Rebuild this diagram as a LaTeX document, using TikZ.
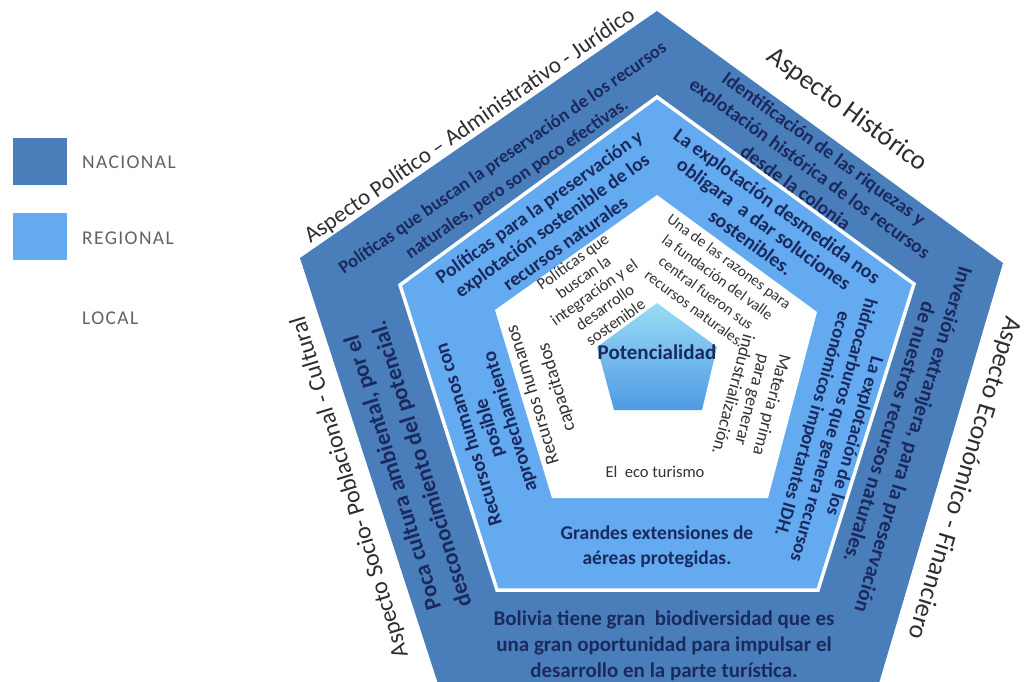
\documentclass[tikz,border=0pt]{standalone}
\usepackage{fontspec}
\setmainfont{Carlito}
\newcommand\myfs[2]{\fontsize{#1}{#2}\selectfont}
\definecolor{nac}{HTML}{4A7EBB}
\definecolor{reg}{HTML}{64AAF0}
\definecolor{navy}{HTML}{1B2A5E}
\definecolor{gtxt}{HTML}{2E2E2E}
\definecolor{ltxt}{HTML}{333333}
\definecolor{ptop}{HTML}{9ADCF5}
\definecolor{pbot}{HTML}{4E9BE3}
\tikzset{
  lbl/.style={text=gtxt, inner sep=0pt},
  bandtxt/.style={text=navy, align=center, inner sep=0pt},
  loctxt/.style={text=ltxt, align=center, inner sep=0pt},
  legtxt/.style={text=gtxt!75, anchor=west, inner sep=0pt, font=\myfs{19.5}{21}\addfontfeature{LetterSpace=7}},
}
\begin{document}
\begin{tikzpicture}[x=1pt,y=-1pt]
\useasboundingbox (0,0) rectangle (1026,682);
\clip (0,0) rectangle (1026,682);
% legend
\fill[nac] (13,138) rectangle (67,185);
\fill[reg] (13,213) rectangle (67,260);
\node[legtxt] (lnac) at (82,162) {NACIONAL};
\node[legtxt] (lreg) at (82,238) {REGIONAL};
\node[legtxt] (lloc) at (82,318) {LOCAL};
% pentagons
\fill[nac] (657,11) -- (1003,263) -- (877,690) -- (440,690) -- (300,258) -- cycle;
\filldraw[fill=reg, draw=white, line width=3.5pt, line join=miter] (657,97) -- (914,284) -- (818,590) -- (497,590) -- (400,285) -- cycle;
\fill[white] (657,195) -- (817,312) -- (768,498) -- (552,498) -- (495,310) -- cycle;
\shade[top color=ptop, bottom color=pbot] (657,303) -- (717,347) -- (702,410) -- (614,410) -- (597,347) -- cycle;
% outer labels
\node[lbl, rotate=34.7, font=\myfs{23}{25}] (tpol) at (470,126) {Aspecto Político – Administrativo - Jurídico};
\node[lbl, rotate=-36.1, font=\myfs{27}{29}] (this) at (847,110) {Aspecto Histórico};
\node[lbl, rotate=-107, font=\myfs{26}{28}] (teco) at (964,478) {Aspecto Económico - Financiero};
\node[lbl, rotate=107, font=\myfs{24}{26}] (tsoc) at (350,487) {Aspecto Socio- Poblacional - Cultural};
% national band
\node[bandtxt, rotate=34.7, font=\myfs{18.5}{25}\bfseries] (n1) at (510,169) {Políticas que buscan la preservación de los recursos\\naturales, pero son poco efectivas.};
\node[bandtxt, rotate=-36.1, font=\myfs{19.5}{24}\bfseries] (n2) at (810,168) {Identificación de las riquezas y\\explotación histórica de los recursos\\desde la colonia};
\node[bandtxt, rotate=-107, font=\myfs{21}{25}\bfseries] (n3) at (902,436) {Inversión extranjera, para la preservación\\de nuestros recursos naturales.};
\node[bandtxt, rotate=107, font=\myfs{23}{30}\bfseries] (n4) at (408,468) {Poca cultura ambiental, por el\\desconocimiento del potencial.};
\node[bandtxt, font=\myfs{21}{26}\bfseries] (n5) at (664,646) {Bolivia tiene gran\ \ biodiversidad que es\\una gran oportunidad para impulsar el\\desarrollo en la parte turística.};
% regional band
\node[bandtxt, rotate=35.5, font=\myfs{19.5}{22.5}\bfseries] (r1) at (552,225) {Políticas para la preservación y\\explotación sostenible de los\\recursos naturales};
\node[bandtxt, rotate=-36, font=\myfs{20}{22.5}\bfseries] (r2) at (764,224) {La explotación desmedida nos\\obligara\ \ a dar soluciones\\sostenibles.};
\node[bandtxt, rotate=-106, font=\myfs{19}{22}\bfseries] (r3) at (833,430) {La explotación de los\\hidrocarburos que genera recursos\\económicos importantes IDH.};
\node[bandtxt, font=\myfs{19.5}{25}\bfseries] (r4) at (657,547) {Grandes extensiones de\\aéreas protegidas.};
\node[bandtxt, rotate=107, font=\myfs{20}{21.5}\bfseries] (r5) at (490,428) {Recursos humanos con\\posible\\aprovechamiento};
% local
\node[loctxt, rotate=35.4, font=\myfs{16.5}{18.5}] (c1) at (594,292) {Políticas que\\buscan la\\integración y el\\desarrollo\\sostenible};
\node[loctxt, rotate=-36.2, font=\myfs{15.5}{19.5}] (c2) at (712,285) {Una de las razones para\\la fundación del valle\\central fueron sus\\recursos naturales.};
\node[loctxt, rotate=-105, font=\myfs{18}{20}] (c3) at (753,400) {Materia prima\\para generar\\industrialización.};
\node[loctxt, rotate=107, font=\myfs{19}{25}] (c4) at (545,391) {Recursos humanos\\capacitados};
\node[loctxt, font=\myfs{16.5}{18}] (c5) at (655,472) {El\ \ eco turismo};
\node[bandtxt, font=\myfs{21}{23}\bfseries] (pot) at (657,352) {Potencialidad};
\end{tikzpicture}
\end{document}
